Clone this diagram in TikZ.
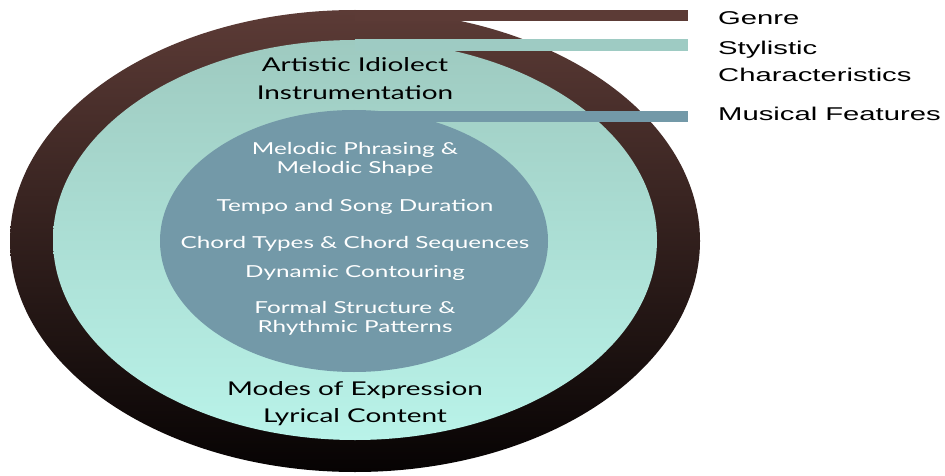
\documentclass[tikz,border=0pt]{standalone}
\usepackage{fontspec}
\setmainfont{Lato}
\newfontfamily\labfont{Liberation Sans}
\definecolor{brownTop}{RGB}{92,59,54}
\definecolor{brownBot}{RGB}{6,3,3}
\definecolor{tealTop}{RGB}{158,202,192}
\definecolor{tealBot}{RGB}{185,243,233}
\definecolor{innerBlue}{RGB}{115,153,168}
\definecolor{styBar}{RGB}{158,203,195}
\newcommand{\wideTxt}[2]{\scalebox{#1}[1]{#2}}
\begin{document}
\begin{tikzpicture}[x=1pt,y=-1pt,
  darktxt/.style={text=black, font=\fontsize{19}{19}\selectfont, inner sep=0pt, anchor=base},
  lighttxt/.style={text=white, font=\fontsize{16.5}{16.5}\selectfont, inner sep=0pt, anchor=base},
  labeltxt/.style={text=black, font=\labfont\fontsize{18.5}{18.5}\selectfont, inner sep=0pt, anchor=base west},
]
\useasboundingbox (0,0) rectangle (945,476);
% outer ring
\shade[top color=brownTop, bottom color=brownBot] (355,241) ellipse [x radius=345, y radius=231];
\fill[brownTop] (355,10) rectangle (688,21);
% middle
\shade[top color=tealTop, bottom color=tealBot] (355,240) ellipse [x radius=302, y radius=200];
\fill[styBar] (355,39) rectangle (688,51);
% inner
\fill[innerBlue] (354,241) ellipse [x radius=194, y radius=131];
\fill[innerBlue] (354,111) rectangle (688,122);
% texts
\node[darktxt] (artistic) at (355,72) {\wideTxt{1.47}{Artistic Idiolect}};
\node[darktxt] (instr) at (355,100) {\wideTxt{1.47}{Instrumentation}};
\node[lighttxt] (melod1) at (355,155) {\wideTxt{1.47}{Melodic Phrasing \&}};
\node[lighttxt] (melod2) at (355,174) {\wideTxt{1.47}{Melodic Shape}};
\node[lighttxt] (tempo) at (355,211) {\wideTxt{1.47}{Tempo and Song Duration}};
\node[lighttxt] (chord) at (355,248) {\wideTxt{1.47}{Chord Types \& Chord Sequences}};
\node[lighttxt] (dyn) at (355,277) {\wideTxt{1.47}{Dynamic Contouring}};
\node[lighttxt] (formal1) at (355,313) {\wideTxt{1.47}{Formal Structure \&}};
\node[lighttxt] (formal2) at (355,332) {\wideTxt{1.47}{Rhythmic Patterns}};
\node[darktxt] (modes) at (355,395) {\wideTxt{1.47}{Modes of Expression}};
\node[darktxt] (lyric) at (355,422) {\wideTxt{1.47}{Lyrical Content}};
% labels
\node[labeltxt] (genre) at (718,25) {\wideTxt{1.58}{Genre}};
\node[labeltxt] (styl1) at (718,55) {\wideTxt{1.58}{Stylistic}};
\node[labeltxt] (styl2) at (718,82) {\wideTxt{1.58}{Characteristics}};
\node[labeltxt] (musical) at (718,121) {\wideTxt{1.58}{Musical Features}};
\end{tikzpicture}
\end{document}
